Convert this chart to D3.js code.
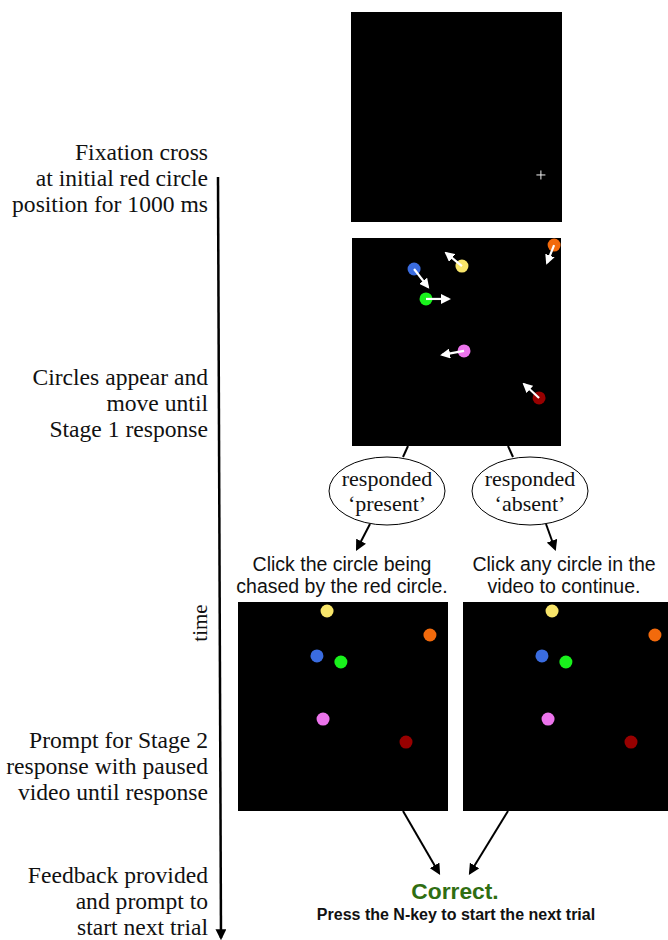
<!DOCTYPE html>
<html>
<head>
<meta charset="utf-8">
<script src="https://cdn.jsdelivr.net/npm/d3@7"></script>
<style>
  html, body { margin: 0; padding: 0; background: #fff; }
  svg { display: block; }
  .serif { font-family: 'Liberation Serif', 'Times New Roman', serif; fill: #111; }
  .sans { font-family: 'Liberation Sans', Helvetica, Arial, sans-serif; fill: #111; }
</style>
</head>
<body>
<div id="chart"></div>
<script>
// circle colours, one per agent
const agents = ['orange', 'yellow', 'blue', 'green', 'pink', 'darkred'];
const agentColors = ['#f26a0c', '#f8e56a', '#3a6ce0', '#19f21c', '#ec74ec', '#980000'];

// moving display (panel units 0..100): position and arrow tip
const movingX = [96.7, 52.6, 29.7, 35.4, 53.6, 89.5];
const movingY = [3.4, 13.5, 14.9, 29.3, 54.3, 76.9];
const tipX = [93.3, 45.0, 36.4, 46.4, 43.1, 82.3];
const tipY = [12.0, 7.2, 23.6, 29.3, 56.2, 70.2];

// paused display for stage 2
const pausedX = [91.4, 42.4, 37.6, 49.0, 40.5, 80.0];
const pausedY = [15.8, 4.3, 25.8, 28.7, 56.0, 67.0];

// fixation cross at initial red circle position
const fixation = [90.0, 77.6];

const stageLabels = [
  ['Fixation cross', 'at initial red circle', 'position for 1000 ms'],
  ['Circles appear and', 'move until', 'Stage 1 response'],
  ['Prompt for Stage 2', 'response with paused', 'video until response'],
  ['Feedback provided', 'and prompt to', 'start next trial']
];
const stageBaselines = [160, 385, 748, 883];

const responses = [['responded', '\u2018present\u2019'], ['responded', '\u2018absent\u2019']];
const prompts = [['Click the circle being', 'chased by the red circle.'], ['Click any circle in the', 'video to continue.']];

const W = 668, H = 940;

const svg = d3.select('#chart').append('svg')
  .attr('width', W)
  .attr('height', H);

const defs = svg.append('defs');

function marker(id, color, size) {
  defs.append('marker')
    .attr('id', id)
    .attr('viewBox', '0 -5 10 10')
    .attr('refX', 8)
    .attr('refY', 0)
    .attr('markerWidth', size)
    .attr('markerHeight', size)
    .attr('markerUnits', 'userSpaceOnUse')
    .attr('orient', 'auto')
    .append('path')
    .attr('d', 'M0,-5L10,0L0,5Z')
    .attr('fill', color);
}

marker('head-white', '#fff', 10);
marker('head-black', '#000', 11);

function panel(x0, y0, w, h) {
  const g = svg.append('g');
  g.append('rect')
    .attr('x', x0).attr('y', y0)
    .attr('width', w).attr('height', h)
    .attr('fill', '#000');
  return {
    g,
    x: d3.scaleLinear().domain([0, 100]).range([x0, x0 + w]),
    y: d3.scaleLinear().domain([0, 100]).range([y0, y0 + h])
  };
}

// panel 1: fixation
const p1 = panel(351, 12, 211, 210);
const fx = p1.x(fixation[0]), fy = p1.y(fixation[1]);
p1.g.append('path')
  .attr('d', `M${fx - 4.5},${fy}H${fx + 4.5}M${fx},${fy - 4.5}V${fy + 4.5}`)
  .attr('stroke', '#f2f2f2')
  .attr('stroke-width', 1);

// panel 2: moving circles with velocity arrows
const p2 = panel(352, 238, 209, 208);
p2.g.selectAll('circle')
  .data(agents)
  .join('circle')
  .attr('cx', (d, i) => p2.x(movingX[i]))
  .attr('cy', (d, i) => p2.y(movingY[i]))
  .attr('r', 6.5)
  .attr('fill', (d, i) => agentColors[i]);
p2.g.selectAll('line.vel')
  .data(agents)
  .join('line')
  .attr('class', 'vel')
  .attr('x1', (d, i) => p2.x(movingX[i]))
  .attr('y1', (d, i) => p2.y(movingY[i]))
  .attr('x2', (d, i) => p2.x(tipX[i]))
  .attr('y2', (d, i) => p2.y(tipY[i]))
  .attr('stroke', '#fff')
  .attr('stroke-width', 2.2)
  .attr('marker-end', 'url(#head-white)');

// panels 3 and 4: paused video
[238, 463].forEach(x0 => {
  const p = panel(x0, 602, 210, 209);
  p.g.selectAll('circle')
    .data(agents)
    .join('circle')
    .attr('cx', (d, i) => p.x(pausedX[i]))
    .attr('cy', (d, i) => p.y(pausedY[i]))
    .attr('r', 6.5)
    .attr('fill', (d, i) => agentColors[i]);
});

// timeline
svg.append('line')
  .attr('x1', 218).attr('y1', 177)
  .attr('x2', 221).attr('y2', 938)
  .attr('stroke', '#000')
  .attr('stroke-width', 2.5)
  .attr('marker-end', 'url(#head-black)');

svg.append('text')
  .attr('class', 'serif')
  .attr('transform', 'translate(207,623) rotate(-90)')
  .attr('text-anchor', 'middle')
  .attr('font-size', 21)
  .text('time');

stageLabels.forEach((lines, k) => {
  const t = svg.append('text')
    .attr('class', 'serif')
    .attr('text-anchor', 'end')
    .attr('font-size', 23.6);
  lines.forEach((s, j) => {
    t.append('tspan')
      .attr('x', 208)
      .attr('y', stageBaselines[k] + j * 26)
      .text(s);
  });
});

// branches to the two responses
const ellX = [387, 530];
const branchTop = [[408, 446, 403, 457], [508, 446, 513, 457]];
branchTop.forEach(b => {
  svg.append('line')
    .attr('x1', b[0]).attr('y1', b[1])
    .attr('x2', b[2]).attr('y2', b[3])
    .attr('stroke', '#000').attr('stroke-width', 2);
});

ellX.forEach((cx, i) => {
  svg.append('ellipse')
    .attr('cx', cx).attr('cy', 491)
    .attr('rx', 58).attr('ry', 34)
    .attr('fill', '#fff')
    .attr('stroke', '#000')
    .attr('stroke-width', 1);
  const t = svg.append('text')
    .attr('class', 'serif')
    .attr('text-anchor', 'middle')
    .attr('font-size', 22);
  responses[i].forEach((s, j) => {
    t.append('tspan').attr('x', cx).attr('y', 486 + j * 25).text(s);
  });
});

const ellArrows = [[370, 524, 357, 549], [546, 524, 555, 549]];
ellArrows.forEach(a => {
  svg.append('line')
    .attr('x1', a[0]).attr('y1', a[1])
    .attr('x2', a[2]).attr('y2', a[3])
    .attr('stroke', '#000').attr('stroke-width', 2)
    .attr('marker-end', 'url(#head-black)');
});

const promptX = [342, 564];
prompts.forEach((lines, i) => {
  const t = svg.append('text')
    .attr('class', 'sans')
    .attr('text-anchor', 'middle')
    .attr('font-size', 19.5);
  lines.forEach((s, j) => {
    t.append('tspan').attr('x', promptX[i]).attr('y', 571 + j * 22).text(s);
  });
});

// arrows into feedback
const fbArrows = [[403, 811, 439, 873], [508, 811, 470, 873]];
fbArrows.forEach(a => {
  svg.append('line')
    .attr('x1', a[0]).attr('y1', a[1])
    .attr('x2', a[2]).attr('y2', a[3])
    .attr('stroke', '#000').attr('stroke-width', 2)
    .attr('marker-end', 'url(#head-black)');
});

svg.append('text')
  .attr('class', 'sans')
  .attr('x', 455).attr('y', 899)
  .attr('text-anchor', 'middle')
  .attr('font-size', 22.8)
  .attr('font-weight', 'bold')
  .style('fill', '#2f6e12')
  .text('Correct.');

svg.append('text')
  .attr('class', 'sans')
  .attr('x', 456).attr('y', 920)
  .attr('text-anchor', 'middle')
  .attr('font-size', 16)
  .attr('font-weight', 'bold')
  .text('Press the N-key to start the next trial');
</script>
</body>
</html>
